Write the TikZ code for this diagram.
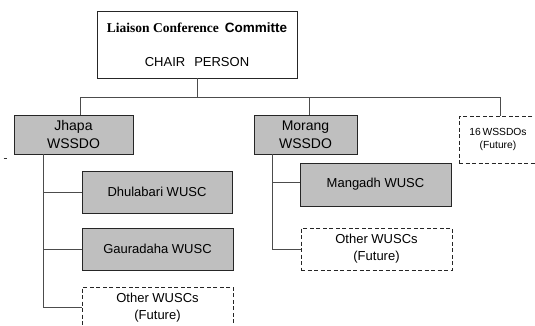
\documentclass[tikz,border=0pt]{standalone}
\usepackage{fontspec}
\setmainfont{Liberation Serif}
\setsansfont{Liberation Sans}
\begin{document}
\begin{tikzpicture}[x=1pt,y=-1pt,
  conn/.style={draw=black!70,line width=0.9pt},
  orgbox/.style={draw=black!85,line width=0.9pt,rectangle,inner sep=0pt,align=center,
    font=\sffamily\fontsize{13}{17}\selectfont},
  solidbox/.style={orgbox,fill=black!25},
  futbox/.style={orgbox,fill=white,dash pattern=on 4pt off 2.5pt}]
\useasboundingbox (0,0) rectangle (535,325);
\begin{scope}
\clip (0,0) rectangle (535,325);
\node[orgbox,minimum width=200pt,minimum height=67pt] (top) at (197,44.5) {};
\node[font=\rmfamily\bfseries\fontsize{13.5}{15}\selectfont,inner sep=0pt] (toptitle) at (197,28)
  {Liaison Conference\hspace{6pt}{\sffamily Committe}};
\node[font=\sffamily\fontsize{13}{15}\selectfont,inner sep=0pt] (topchair) at (197,62)
  {CHAIR\hspace{9pt}PERSON};
\node[solidbox,minimum width=119pt,minimum height=39pt,font=\sffamily\fontsize{14}{18}\selectfont] (jh) at (73.5,134.5) {Jhapa\\WSSDO};
\node[solidbox,minimum width=103pt,minimum height=39pt,font=\sffamily\fontsize{14}{18}\selectfont] (mo) at (305.5,134.5) {Morang\\WSSDO};
\node[futbox,minimum width=78pt,minimum height=47pt,font=\sffamily\fontsize{10.3}{13.5}\selectfont] (f16) at (498,139.5) {16\,WSSDOs\\(Future)};
\node[solidbox,minimum width=150pt,minimum height=42pt] (dh) at (157,192) {Dhulabari WUSC};
\node[solidbox,minimum width=151pt,minimum height=42pt] (ga) at (157.5,249) {Gauradaha WUSC};
\node[futbox,minimum width=151pt,minimum height=41pt] (oj) at (157.5,307.5) {Other WUSCs\\(Future)};
\node[solidbox,minimum width=151pt,minimum height=43pt] (ma) at (375.5,184.5) {Mangadh WUSC};
\node[futbox,minimum width=151pt,minimum height=42pt] (om) at (376.5,249) {Other WUSCs\\(Future)};
\end{scope}
\coordinate (bj) at (80,97);
\coordinate (bm) at (309,97);
\coordinate (b16) at (500,97);
\coordinate (jt) at (43,154);
\coordinate (mt) at (272,154);
\draw[conn] (top.south) -- (top.south |- bj);
\draw[conn] (jh.north -| bj) -- (bj) -- (b16) -- (f16.north -| b16);
\draw[conn] (bm) -- (mo.north -| bm);
\draw[conn] (jt) |- (oj.west);
\draw[conn] (jt |- dh.west) -- (dh.west);
\draw[conn] (jt |- ga.west) -- (ga.west);
\draw[conn] (mt) |- (om.west);
\draw[conn] (mt |- 0,182) -- (ma.west |- 0,182);
\draw[black!80,line width=0.7pt] (3.5,158) -- (6.5,158);
\end{tikzpicture}
\end{document}
